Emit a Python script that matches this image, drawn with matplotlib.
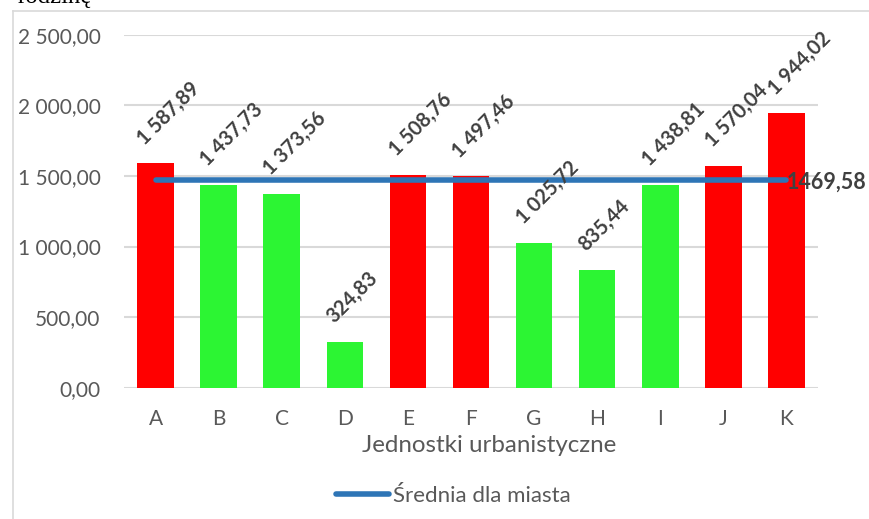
import matplotlib
matplotlib.use("Agg")
import matplotlib.pyplot as plt
from matplotlib.lines import Line2D
from matplotlib.ticker import FuncFormatter

plt.rcParams['font.family'] = ['Lato', 'DejaVu Sans']

# Units and their values
categories = ["A", "B", "C", "D", "E", "F", "G", "H", "I", "J", "K"]
values = [1587.89, 1437.73, 1373.56, 324.83, 1508.76, 1497.46,
          1025.72, 835.44, 1438.81, 1570.04, 1944.02]
city_mean = 1469.58
mean_label = "Średnia dla miasta"
x_title = "Jednostki urbanistyczne"
y_ticks = [0, 500, 1000, 1500, 2000, 2500]

RED = "#FF0000"
GREEN = "#2CF533"
LINE_BLUE = "#2E75B6"
TICK_GRAY = "#595959"
LABEL_GRAY = "#404040"
GRID_GRAY = "#D9D9D9"


def pl_num(v):
    s = f"{v:,.2f}"
    return s.replace(",", " ").replace(".", ",")


W, H = 870, 519
fig = plt.figure(figsize=(W / 100, H / 100), dpi=100)
ax = fig.add_axes([124 / W, 1 - 387.7 / H, (818 - 124) / W, (387.7 - 34.7) / H])

xs = list(range(len(categories)))
colors = [RED if v > city_mean else GREEN for v in values]
ax.bar(xs, values, width=0.58, color=colors, zorder=2)

ax.set_xlim(-0.5, len(categories) - 0.5)
ax.set_ylim(0, 2500)
ax.set_yticks(y_ticks)
ax.yaxis.set_major_formatter(FuncFormatter(lambda v, p: pl_num(v)))
ax.set_xticks(xs)
ax.set_xticklabels(categories)
ax.tick_params(axis='both', length=0, labelsize=15, labelcolor=TICK_GRAY)
ax.tick_params(axis='y', pad=17)
ax.tick_params(axis='x', pad=15)
for s in ax.spines.values():
    s.set_visible(False)
ax.grid(axis='y', color=GRID_GRAY, linewidth=1.5, zorder=0)
ax.set_axisbelow(True)

# City average line
mean_line, = ax.plot([xs[0], xs[-1]], [city_mean, city_mean], color=LINE_BLUE,
                     linewidth=4.0, solid_capstyle='round', zorder=3)
ax.annotate(f"{city_mean:.2f}".replace(".", ","), xy=(xs[-1], city_mean),
            xytext=(0, -2), textcoords='offset pixels', ha='left', va='center',
            fontsize=15.5, fontweight='bold', color=LABEL_GRAY, zorder=4,
            annotation_clip=False)

# Rotated value labels above bars
for x, v in zip(xs, values):
    ax.annotate(pl_num(v), xy=(x, v), xytext=(-22, 15), textcoords='offset pixels',
                rotation=45, ha='left', va='bottom', fontsize=14.5,
                fontweight='bold', color=LABEL_GRAY, zorder=4,
                annotation_clip=False)

fig.text(489 / W, 1 - 445 / H, x_title, ha='center', va='center',
         fontsize=17.4, color=TICK_GRAY)

handle = Line2D([], [], color=LINE_BLUE, linewidth=4.0, solid_capstyle='round')
fig.legend(handles=[handle], labels=[mean_label], loc='center',
           bbox_to_anchor=(453.5 / W, 1 - 495.7 / H), frameon=False,
           fontsize=16, labelcolor=TICK_GRAY, handlelength=2.35,
           handletextpad=0.2)

# Chart frame and the text above it
frame_col = GRID_GRAY
fig.add_artist(Line2D([13 / W, 13 / W], [0, 1 - 11 / H], color=frame_col,
                      linewidth=1.2, transform=fig.transFigure))
fig.add_artist(Line2D([13 / W, 1], [1 - 11 / H, 1 - 11 / H], color=frame_col,
                      linewidth=1.2, transform=fig.transFigure))
fig.text(18 / W, 1 - 3 / H, "rodzinę", ha='left', va='baseline',
         fontsize=17.8, family='Liberation Serif', color='black')

fig.savefig("out.png", dpi=100)
